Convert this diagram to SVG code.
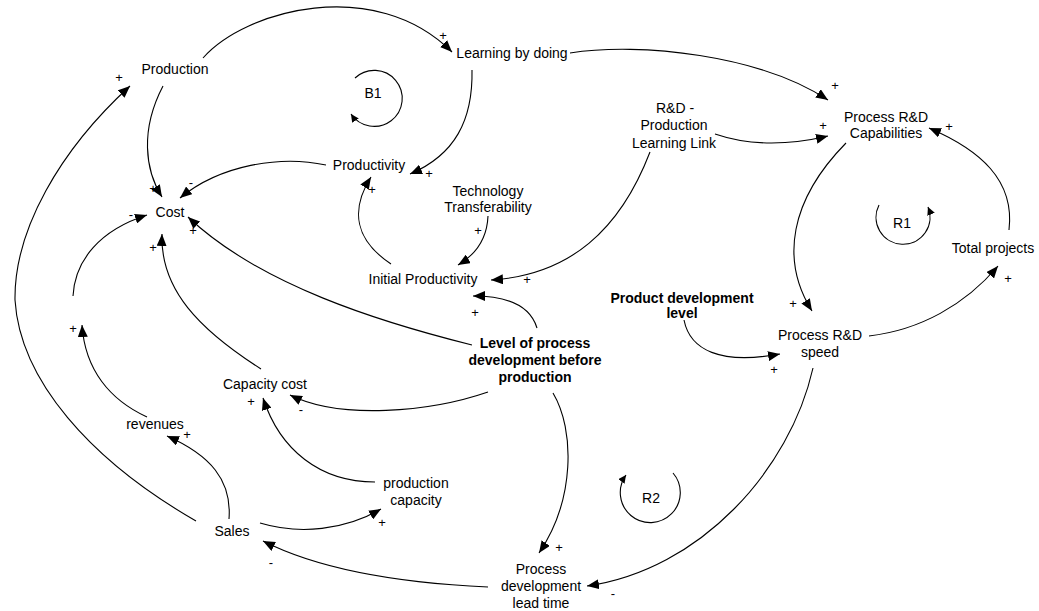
<svg xmlns="http://www.w3.org/2000/svg" width="1039" height="611" viewBox="0 0 1039 611">
<style>
text{font-family:"Liberation Sans",Arial,sans-serif;fill:#000;}
.n{font-size:14px;text-anchor:middle;}
.b{font-size:14px;text-anchor:middle;font-weight:bold;}
.s{font-size:13px;text-anchor:middle;}
.c{fill:none;stroke:#000;stroke-width:1.1;marker-end:url(#ah);}
.l{fill:none;stroke:#000;stroke-width:1.1;marker-end:url(#lh);}
</style>
<defs>
<marker id="ah" markerUnits="userSpaceOnUse" markerWidth="13" markerHeight="10" refX="12" refY="5" orient="auto"><path d="M0,0 L12,5 L0,10 z" fill="#000"/></marker>
<marker id="lh" markerUnits="userSpaceOnUse" markerWidth="9" markerHeight="8" refX="8" refY="4" orient="auto"><path d="M0,0 L8,4 L0,8 z" fill="#000"/></marker>
</defs>
<rect width="1039" height="611" fill="#fff"/>
<g id="connectors">
<path class="c" d="M203,58 C245,10 375,-25 452,52"/>
<path class="c" d="M570,53 C640,42 760,55 828,100"/>
<path class="c" d="M472,70 C473,120 455,155 410,174"/>
<path class="c" d="M163,86 C140,130 145,170 162,197"/>
<path class="c" d="M326,165 C280,155 220,165 180,198"/>
<path class="c" d="M73,296 C75,260 100,230 147,215"/>
<path class="c" d="M147,417 C110,400 85,370 82,325"/>
<path class="c" d="M261,369 C200,330 160,290 162,234"/>
<path class="c" d="M472,345 C380,322 260,285 188,217"/>
<path class="c" d="M488,392 C430,412 340,420 290,395"/>
<path class="c" d="M375,482 C320,482 280,450 263,398"/>
<path class="c" d="M229,519 C232,480 210,455 167,436"/>
<path class="c" d="M196,521 C90,460 20,380 15,300 C14,230 60,150 130,86"/>
<path class="c" d="M260,523 C300,535 345,530 381,509"/>
<path class="c" d="M488,587 C400,583 320,570 263,541"/>
<path class="c" d="M553,393 C575,430 575,500 539,553"/>
<path class="c" d="M813,368 C790,470 700,570 587,586"/>
<path class="c" d="M537,328 C530,305 505,296 473,296"/>
<path class="c" d="M391,264 C355,240 350,210 371,177"/>
<path class="c" d="M488,216 C487,240 475,255 458,265"/>
<path class="c" d="M650,152 C620,230 570,275 491,280"/>
<path class="c" d="M715,134 C750,146 790,145 828,136"/>
<path class="c" d="M846,143 C790,200 780,260 812,311"/>
<path class="c" d="M869,336 C920,330 965,305 998,266"/>
<path class="c" d="M1009,230 C1015,180 980,150 929,128"/>
<path class="c" d="M684,320 C690,350 720,365 780,354"/>
</g>
<g id="loops">
<g id="B1"><path class="l" d="M355,78 A28,28 0 1,1 351,114"/><text class="n" x="373" y="98">B1</text></g>
<g id="R1"><path class="l" d="M879,205 A27,27 0 1,0 928,207"/><text class="n" x="902" y="228">R1</text></g>
<g id="R2"><path class="l" d="M673,473 A30,30 0 1,1 626,475"/><text class="n" x="651" y="503">R2</text></g>
</g>
<g id="signs">
<text class="s" x="119" y="82">+</text>
<text class="s" x="153" y="193">+</text>
<text class="s" x="191" y="187">-</text>
<text class="s" x="131" y="219">-</text>
<text class="s" x="193" y="235">+</text>
<text class="s" x="153" y="252">+</text>
<text class="s" x="443" y="40">+</text>
<text class="s" x="429" y="178">+</text>
<text class="s" x="372" y="194">+</text>
<text class="s" x="478" y="235">+</text>
<text class="s" x="835" y="90">+</text>
<text class="s" x="823" y="130">+</text>
<text class="s" x="949" y="131">+</text>
<text class="s" x="1008" y="283">+</text>
<text class="s" x="527" y="284">+</text>
<text class="s" x="475" y="317">+</text>
<text class="s" x="793" y="308">+</text>
<text class="s" x="774" y="374">+</text>
<text class="s" x="73" y="333">+</text>
<text class="s" x="251" y="406">+</text>
<text class="s" x="301" y="414">-</text>
<text class="s" x="187" y="439">+</text>
<text class="s" x="382" y="527">+</text>
<text class="s" x="271" y="567">-</text>
<text class="s" x="559" y="552">+</text>
<text class="s" x="613" y="598">-</text>
</g>
<g id="production"><text class="n" x="175" y="74">Production</text></g>
<g id="learning"><text class="n" x="512" y="58">Learning by doing</text></g>
<g id="productivity"><text class="n" x="369" y="170">Productivity</text></g>
<g id="technology"><text class="n" x="488" y="196">Technology</text><text class="n" x="488" y="212">Transferability</text></g>
<g id="rdlink"><text class="n" x="675" y="113">R&amp;D -</text><text class="n" x="674" y="130">Production</text><text class="n" x="674" y="148">Learning Link</text></g>
<g id="capabilities"><text class="n" x="886" y="122">Process R&amp;D</text><text class="n" x="886" y="138">Capabilities</text></g>
<g id="cost"><text class="n" x="170" y="217">Cost</text></g>
<g id="initial"><text class="n" x="423" y="284">Initial Productivity</text></g>
<g id="total"><text class="n" x="993" y="253">Total projects</text></g>
<g id="product"><text class="b" x="682" y="303">Product development</text><text class="b" x="682" y="318">level</text></g>
<g id="level"><text class="b" x="535" y="348">Level of process</text><text class="b" x="535" y="365">development before</text><text class="b" x="535" y="382">production</text></g>
<g id="speed"><text class="n" x="820" y="340">Process R&amp;D</text><text class="n" x="820" y="357">speed</text></g>
<g id="capcost"><text class="n" x="265" y="389">Capacity cost</text></g>
<g id="revenues"><text class="n" x="155" y="429">revenues</text></g>
<g id="prodcap"><text class="n" x="416" y="488">production</text><text class="n" x="416" y="505">capacity</text></g>
<g id="sales"><text class="n" x="232" y="536">Sales</text></g>
<g id="leadtime"><text class="n" x="541" y="574">Process</text><text class="n" x="541" y="591">development</text><text class="n" x="541" y="608">lead time</text></g>
</svg>
